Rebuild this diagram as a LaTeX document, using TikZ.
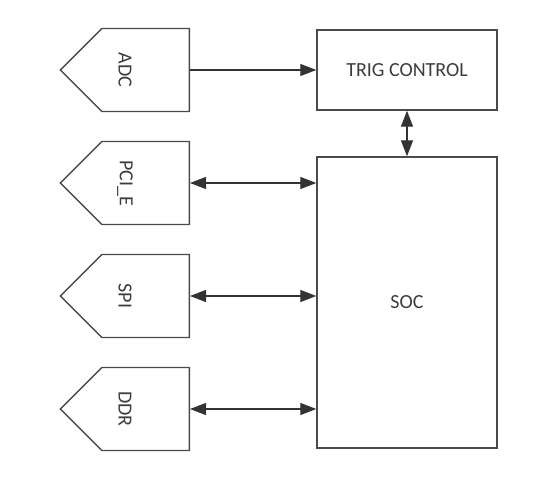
\documentclass[tikz,border=0pt]{standalone}
\usepackage{fontspec}
\setmainfont{Carlito}
\usetikzlibrary{shapes.symbols,arrows.meta}
\definecolor{linegray}{HTML}{4A4A4A}
\definecolor{textgray}{HTML}{3C3C3C}
\tikzset{
  port/.style={signal, signal to=west, signal pointer angle=90, draw=linegray,
    line width=1.4pt, minimum width=129pt, minimum height=83pt, inner sep=0pt},
  block/.style={draw=linegray, line width=1.4pt, inner sep=0pt, text=textgray},
  tip/.tip={Triangle[length=16pt, width=12pt]},
  link/.style={draw=black!80, line width=1.3pt}
}
\begin{document}
\begin{tikzpicture}[x=1pt, y=-1pt, font=\fontsize{20}{24}\selectfont]
  \useasboundingbox (0,0) rectangle (560,484);
  \node[block, minimum width=180pt, minimum height=80pt] (trig) at (407,70) {TRIG CONTROL};
  \node[block, minimum width=180pt, minimum height=291pt] (soc) at (407,302.5) {SOC};
  \foreach \nm/\lbl/\y in {adc/ADC/70, pcie/PCI\_E/183, spi/SPI/296, ddr/DDR/409} {
    \node[port, anchor=east] (\nm) at (190,\y) {};
    \node[rotate=-90, text=textgray] (\nm-lbl) at (125,\y) {\lbl};
  }
  \draw[link, -tip] (adc.east) -- (trig.west |- adc.east);
  \foreach \nm in {pcie, spi, ddr}
    \draw[link, tip-tip] (\nm.east) -- (soc.west |- \nm.east);
  \draw[link, tip-tip] (trig.south) -- (soc.north);
\end{tikzpicture}
\end{document}
